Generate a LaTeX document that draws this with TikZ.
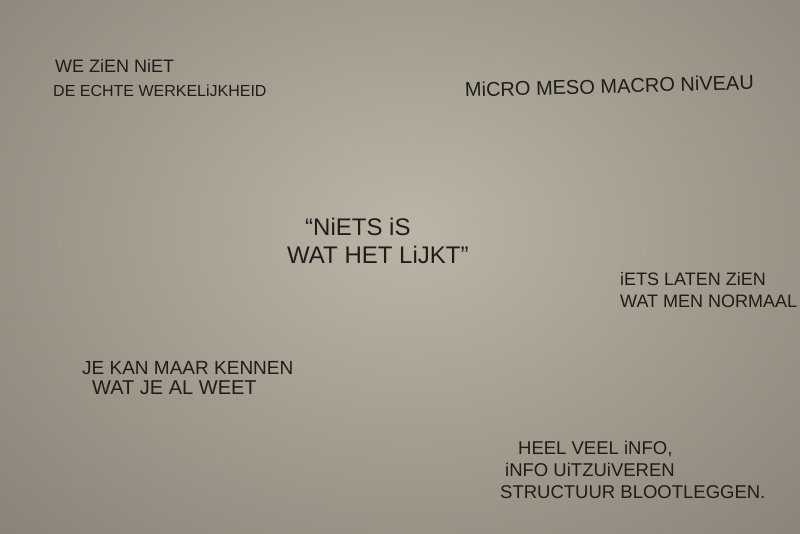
\documentclass[tikz,border=0pt]{standalone}
\usepackage{fontspec}
\setmainfont{Liberation Sans}
\usetikzlibrary{positioning}
\definecolor{mypaper}{rgb}{0.73,0.71,0.65}
\definecolor{myedge}{rgb}{0.53,0.51,0.46}
\definecolor{myink}{rgb}{0.12,0.11,0.10}
\newcommand{\HANDSIZE}[1]{\fontsize{#1}{#1}\selectfont}

\begin{document}
\begin{tikzpicture}[x=1pt,y=-1pt,
	handline/.style={anchor=base west,inner sep=0pt,text=myink}]

	% paper
	\useasboundingbox (0,0) rectangle (800,533);
	\begin{scope}
		\clip (0,0) rectangle (800,533);
		\shade[inner color=mypaper,outer color=myedge] (-180,-220) rectangle (1000,680);
	\end{scope}

	%% top left
	\node[handline,font=\HANDSIZE{18pt}] (zien1) at (55,72) {WE ZiEN NiET};
	\node[handline,font=\HANDSIZE{16pt}] (zien2) at (53,96) {DE ECHTE WERKELiJKHEID};

	%% top right
	\node[handline,font=\HANDSIZE{20pt},rotate=1.5] (niveau) at (465,97) {MiCRO MESO MACRO NiVEAU};

	%% middle
	\node[handline,font=\HANDSIZE{24pt}] (niets1) at (305,235) {“NiETS iS};
	\node[handline,font=\HANDSIZE{24pt}] (niets2) at (287,263) {WAT HET LiJKT”};

	%% right
	\node[handline,font=\HANDSIZE{18pt}] (iets1) at (620,285) {iETS LATEN ZiEN};
	\node[handline,font=\HANDSIZE{18pt}] (iets2) at (620,307) {WAT MEN NORMAAL};

	%% bottom left
	\node[handline,font=\HANDSIZE{19pt}] (kennen1) at (82,374) {JE KAN MAAR KENNEN};
	\node[handline,font=\HANDSIZE{20pt}] (kennen2) at (92,394) {WAT JE AL WEET};

	%% bottom right
	\node[handline,font=\HANDSIZE{18.5pt}] (info1) at (518,454) {HEEL VEEL iNFO,};
	\node[handline,font=\HANDSIZE{18.5pt}] (info2) at (505,476) {iNFO UiTZUiVEREN};
	\node[handline,font=\HANDSIZE{18.5pt}] (info3) at (500,498) {STRUCTUUR BLOOTLEGGEN.};

\end{tikzpicture}
\end{document}
